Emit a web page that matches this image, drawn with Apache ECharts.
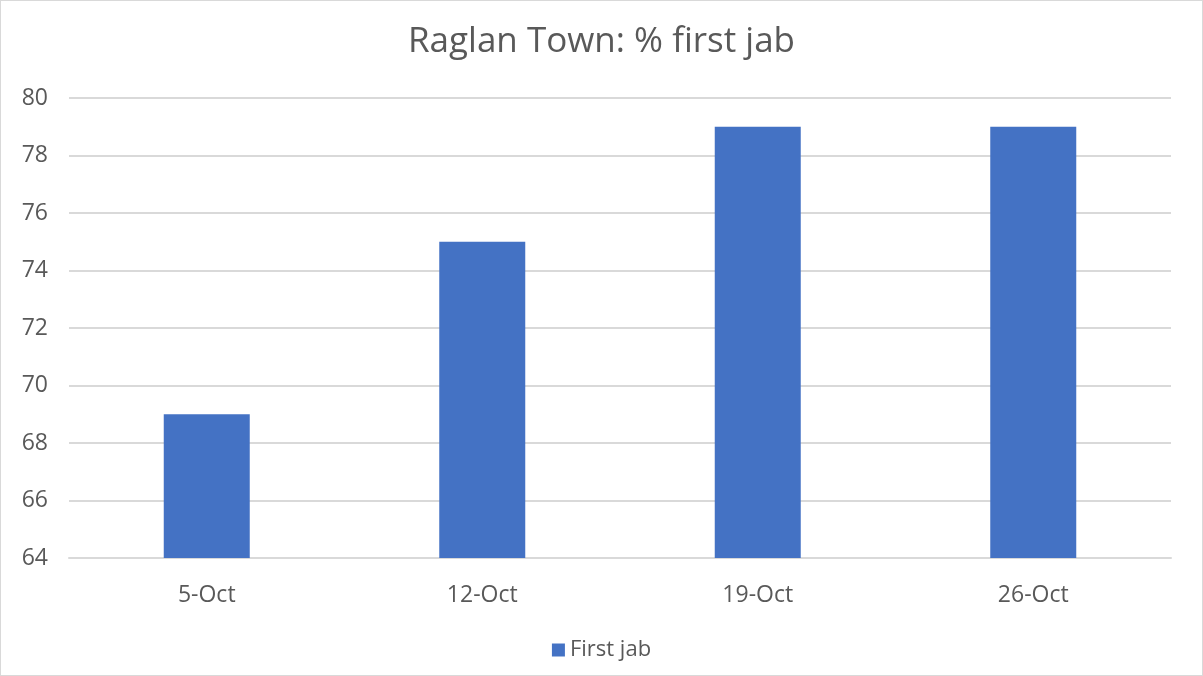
<!DOCTYPE html>
<html><head><meta charset="utf-8">
<script src="https://cdn.jsdelivr.net/npm/echarts@6/dist/echarts.min.js"></script>
<style>html,body{margin:0;padding:0;background:#fff;}#c{width:1203px;height:676px;box-sizing:border-box;border:1px solid #d9d9d9;}</style>
</head><body><div id="c"></div>
<script>
const categories = ['5-Oct', '12-Oct', '19-Oct', '26-Oct'];
const firstJab = [69, 75, 79, 79];
const yTicks = { min: 64, max: 80, interval: 2 };

const chart = echarts.init(document.getElementById('c'));
const font = '"Open Sans", "Noto Sans", sans-serif';
chart.setOption({
  animation: false,
  title: { text: 'Raglan Town: % first jab', left: 'center', top: 19,
    textStyle: { fontFamily: font, fontSize: 35, fontWeight: 'normal', color: '#595959' } },
  grid: { left: 68, right: 31, top: 97, bottom: 117 },
  legend: { bottom: 9, left: 'center', itemWidth: 13, itemHeight: 13, itemGap: 7,
    icon: 'rect', textStyle: { fontFamily: font, fontSize: 22, color: '#595959' } },
  xAxis: { type: 'category', data: categories,
    axisLine: { lineStyle: { color: '#d9d9d9', width: 2 } }, axisTick: { show: false },
    axisLabel: { fontFamily: font, fontSize: 23, color: '#595959', margin: 26 } },
  yAxis: { type: 'value', min: yTicks.min, max: yTicks.max, interval: yTicks.interval,
    axisLine: { show: false }, axisTick: { show: false },
    splitLine: { lineStyle: { color: '#d9d9d9', width: 2 } },
    axisLabel: { fontFamily: font, fontSize: 23, color: '#595959', margin: 21 } },
  series: [{ name: 'First jab', type: 'bar', data: firstJab, barWidth: 86,
    itemStyle: { color: '#4472c4' } }]
});
</script></body></html>
